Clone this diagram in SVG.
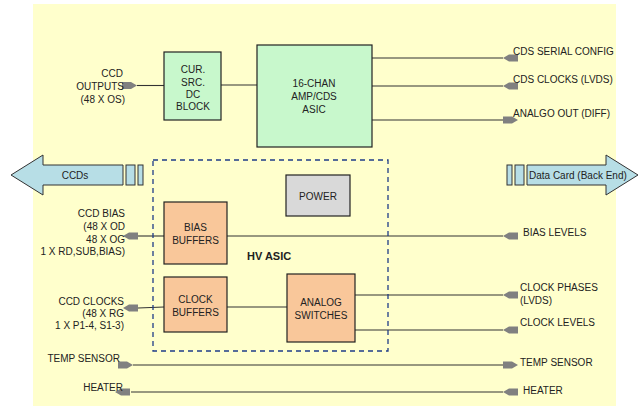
<svg xmlns="http://www.w3.org/2000/svg" xmlns:xlink="http://www.w3.org/1999/xlink" width="643" height="406" viewBox="0 0 643 406">
<defs>
<style>
text{font-family:"Liberation Sans",Arial,sans-serif;font-size:10px;fill:#222}
.c{text-anchor:middle}
.e{text-anchor:end}
.box{stroke:#222;stroke-width:1.2}
.green{fill:#c8f8cc}
.peach{fill:#f9c79a}
.gray{fill:#d9d9d9}
.ln{stroke:#333;stroke-width:1.1;fill:none}
.big{fill:#b7dee6;stroke:#333;stroke-width:1}
.hd{fill:#808080}
</style>
<path id="pl" class="hd" d="M0,0 L6,-3.5 H15 V3.5 H6 Z"/>
<path id="pr" class="hd" d="M0,-3.5 H9 L15,0 L9,3.5 H0 Z"/>
</defs>
<rect x="33" y="4" width="583" height="402" fill="#ffffcc"/>

<g id="connectors">
<line class="ln" x1="137" y1="85.5" x2="164" y2="85.5"/>
<line class="ln" x1="221" y1="85" x2="257" y2="85"/>
<line class="ln" x1="372" y1="58" x2="503" y2="58"/>
<line class="ln" x1="372" y1="86" x2="503" y2="86"/>
<line class="ln" x1="372" y1="120" x2="504" y2="120"/>
<line class="ln" x1="138" y1="236" x2="164" y2="236"/>
<line class="ln" x1="212" y1="236" x2="503" y2="236"/>
<line class="ln" x1="138" y1="308" x2="164" y2="307"/>
<line class="ln" x1="227" y1="307" x2="287" y2="307"/>
<line class="ln" x1="355" y1="295" x2="503" y2="295"/>
<line class="ln" x1="355" y1="330" x2="503" y2="330"/>
<line class="ln" x1="133" y1="365" x2="503" y2="365"/>
<line class="ln" x1="131" y1="392" x2="503" y2="392"/>
<use xlink:href="#pr" x="122" y="85.5"/>
<use xlink:href="#pl" x="503" y="58"/>
<use xlink:href="#pl" x="503" y="86"/>
<use xlink:href="#pr" x="503" y="120"/>
<use xlink:href="#pl" x="123" y="236"/>
<use xlink:href="#pl" x="503" y="236"/>
<use xlink:href="#pl" x="123" y="308"/>
<use xlink:href="#pl" x="503" y="295"/>
<use xlink:href="#pl" x="503" y="330"/>
<use xlink:href="#pr" x="118" y="365"/>
<use xlink:href="#pr" x="503" y="365"/>
<use xlink:href="#pl" x="115" y="392"/>
<use xlink:href="#pl" x="503" y="392"/>
</g>

<g id="hv-asic">
<rect x="153" y="160" width="235" height="191" fill="none" stroke="#1f3c88" stroke-width="1.3" stroke-dasharray="5,4"/>
<text x="247" y="260" style="font-weight:bold;font-size:11px">HV ASIC</text>
</g>

<g id="ccd-outputs">
<text class="e" x="123" y="76.5">CCD</text>
<text class="e" x="124" y="89.5">OUTPUTS</text>
<text class="e" x="125" y="102.5">(48 X OS)</text>
</g>

<g id="cur-src">
<rect class="box green" x="164" y="52" width="57" height="68"/>
<text class="c" x="193" y="72.5">CUR.</text>
<text class="c" x="193" y="85.5">SRC.</text>
<text class="c" x="193" y="97.5">DC</text>
<text class="c" x="193" y="109.5">BLOCK</text>
</g>

<g id="amp-cds">
<rect class="box green" x="257" y="45" width="115" height="102"/>
<text class="c" x="314" y="86.8">16-CHAN</text>
<text class="c" x="314" y="100">AMP/CDS</text>
<text class="c" x="314" y="113">ASIC</text>
</g>

<g id="out-labels">
<text x="513" y="54.5">CDS SERIAL CONFIG</text>
<text x="513" y="82.5">CDS CLOCKS (LVDS)</text>
<text x="513" y="116.5">ANALGO OUT (DIFF)</text>
</g>

<g id="ccds">
<polygon class="big" points="11,175 43,155 43,165 123,165 123,185 43,185 43,195"/>
<rect class="big" x="126" y="165" width="9" height="20"/>
<rect class="big" x="138" y="165" width="5" height="20"/>
<text class="c" x="75" y="178.5">CCDs</text>
</g>

<g id="data-card">
<rect class="big" x="507" y="165" width="5" height="20"/>
<rect class="big" x="515" y="165" width="9" height="20"/>
<polygon class="big" points="527,165 606,165 606,155 638,175 606,195 606,185 527,185"/>
<text x="529" y="178.5">Data Card (Back End)</text>
</g>

<g id="power">
<rect class="box gray" x="286" y="175" width="64" height="41"/>
<text class="c" x="318" y="199.5">POWER</text>
</g>

<g id="ccd-bias">
<text class="e" x="125" y="216.5">CCD BIAS</text>
<text class="e" x="125" y="229.5">(48 X OD</text>
<text class="e" x="125" y="242.5">48 X OG</text>
<text class="e" x="125" y="254.5">1 X RD,SUB,BIAS)</text>
</g>

<g id="bias-buffers">
<rect class="box peach" x="164" y="202" width="63" height="62"/>
<text class="c" x="195.5" y="230.5">BIAS</text>
<text class="c" x="195.5" y="243.5">BUFFERS</text>
</g>

<g id="bias-levels">
<text x="523" y="235.5">BIAS LEVELS</text>
</g>

<g id="ccd-clocks">
<text class="e" x="124" y="304.5">CCD CLOCKS</text>
<text class="e" x="124" y="316.5">(48 X RG</text>
<text class="e" x="124" y="328.5">1 X P1-4, S1-3)</text>
</g>

<g id="clock-buffers">
<rect class="box peach" x="164" y="277" width="63" height="55"/>
<text class="c" x="195.5" y="302.5">CLOCK</text>
<text class="c" x="195.5" y="315.5">BUFFERS</text>
</g>

<g id="analog-switches">
<rect class="box peach" x="287" y="274" width="68" height="68"/>
<text class="c" x="321" y="305.5">ANALOG</text>
<text class="c" x="321" y="318.5">SWITCHES</text>
</g>

<g id="clock-labels">
<text x="520" y="290.5">CLOCK PHASES</text>
<text x="520" y="303.5">(LVDS)</text>
<text x="520" y="325.5">CLOCK LEVELS</text>
</g>

<g id="temp-sensor">
<text class="e" x="120" y="361.5">TEMP SENSOR</text>
<text x="520" y="365.5">TEMP SENSOR</text>
</g>

<g id="heater">
<text class="e" x="123" y="390.5">HEATER</text>
<text x="523" y="393.5">HEATER</text>
</g>
</svg>
